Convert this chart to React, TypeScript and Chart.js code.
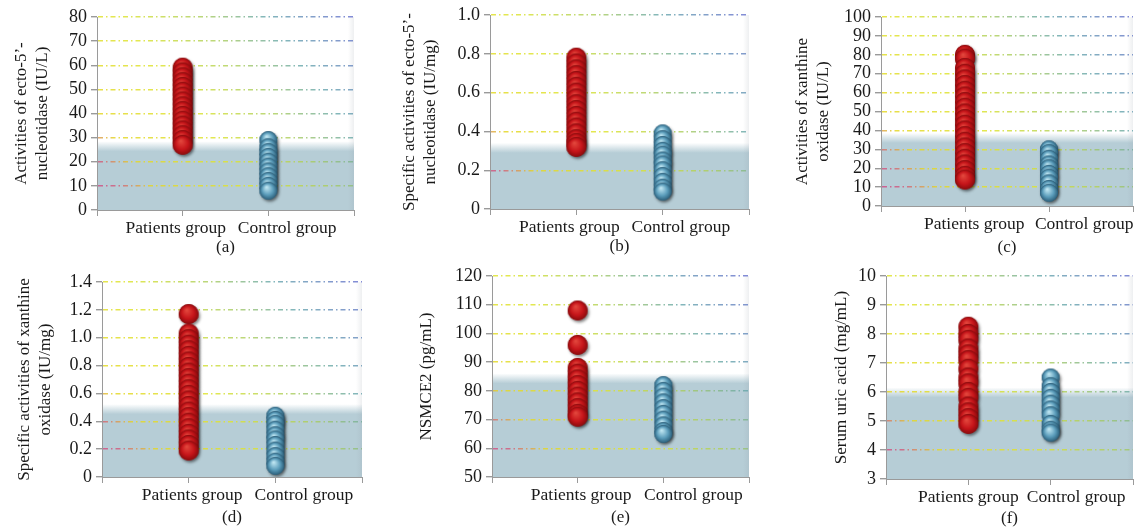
import React, { useEffect, useRef } from 'react';
import { Chart, registerables } from 'chart.js';

Chart.register(...registerables);

// ---------- data ----------
const groupLabels = ['Patients group', 'Control group'];

const aPatients = [59, 57, 55, 53, 51, 49, 47, 45, 43, 41, 39, 37, 35, 33, 31, 29, 27];
const aControl = [29, 26, 24, 22, 20, 18, 16, 14, 12, 10, 8];

const bPatients = [0.78, 0.75, 0.72, 0.69, 0.66, 0.63, 0.6, 0.57, 0.54, 0.51, 0.48, 0.45, 0.42, 0.39, 0.36, 0.34, 0.32];
const bControl = [0.39, 0.36, 0.33, 0.3, 0.28, 0.25, 0.23, 0.2, 0.17, 0.14, 0.11, 0.09];

const cPatients = [80, 78, 73, 70, 67, 64, 61, 58, 55, 52, 49, 46, 43, 40, 37, 34, 31, 28, 25, 22, 19, 16, 14];
const cControl = [30, 28, 25, 22, 20, 17, 15, 12, 9, 7];

const dPatients = [1.17, 1.03, 0.99, 0.95, 0.91, 0.87, 0.83, 0.79, 0.75, 0.71, 0.67, 0.63, 0.59, 0.55, 0.51, 0.47, 0.43, 0.39, 0.35, 0.31, 0.27, 0.23, 0.19];
const dControl = [0.44, 0.41, 0.38, 0.34, 0.3, 0.27, 0.23, 0.19, 0.15, 0.11, 0.08];

const ePatients = [108, 96, 88, 86, 84, 82, 80, 78, 76, 74, 72, 71];
const eControl = [82, 80, 78, 76, 74, 72, 70, 68, 66, 65];

const fPatients = [8.25, 8.0, 7.8, 7.5, 7.3, 7.1, 6.8, 6.5, 6.3, 6.0, 5.8, 5.5, 5.3, 5.1, 4.9];
const fControl = [6.5, 6.2, 6.0, 5.8, 5.6, 5.4, 5.2, 4.9, 4.7, 4.6];

// ---------- layout / style ----------
const SERIF = '"Liberation Serif", "Times New Roman", Times, serif';

type Panel = {
  id: string;
  caption: string;
  yTitle: string | string[];
  patients: number[];
  control: number[];
  yMin: number;
  yMax: number;
  yStep: number;
  decimals: number;
  level: number;
  box: { x: number; y: number; w: number; h: number };
  area: { l: number; t: number; r: number; b: number };
  titlePad: number;
  captionPad: number;
  labelAt: number[];
};

const panels: Panel[] = [
  {
    id: 'a', caption: '(a)', yTitle: ['Activities of ecto-5\u2019-', 'nucleotidase (IU/L)'],
    patients: aPatients, control: aControl, yMin: 0, yMax: 80, yStep: 10, decimals: 0, level: 26,
    box: { x: 0, y: 0, w: 380, h: 260 }, area: { l: 97, t: 17, r: 354, b: 210 },
    titlePad: 11, captionPad: 2, labelAt: [0.92, 2.22],
  },
  {
    id: 'b', caption: '(b)', yTitle: ['Specific activities of ecto-5\u2019-', 'nucleotidase (IU/mg)'],
    patients: bPatients, control: bControl, yMin: 0, yMax: 1.0, yStep: 0.2, decimals: 1, level: 0.31,
    box: { x: 380, y: 0, w: 380, h: 260 }, area: { l: 490, t: 15, r: 750, b: 209 },
    titlePad: 19, captionPad: 3, labelAt: [0.92, 2.21],
  },
  {
    id: 'c', caption: '(c)', yTitle: ['Activities of xanthine', 'oxidase (IU/L)'],
    patients: cPatients, control: cControl, yMin: 0, yMax: 100, yStep: 10, decimals: 0, level: 35.5,
    box: { x: 760, y: 0, w: 384, h: 260 }, area: { l: 881, t: 17, r: 1140, b: 206 },
    titlePad: 32, captionPad: 2, labelAt: [1.11, 2.42],
  },
  {
    id: 'd', caption: '(d)', yTitle: ['Specific activities of xanthine', 'oxidase (IU/mg)'],
    patients: dPatients, control: dControl, yMin: 0, yMax: 1.4, yStep: 0.2, decimals: 1, level: 0.48,
    box: { x: 0, y: 260, w: 380, h: 269 }, area: { l: 102, t: 282, r: 362, b: 477 },
    titlePad: 14, captionPad: 1, labelAt: [1.04, 2.33],
  },
  {
    id: 'e', caption: '(e)', yTitle: 'NSMCE2 (pg/mL)',
    patients: ePatients, control: eControl, yMin: 50, yMax: 120, yStep: 10, decimals: 0, level: 84,
    box: { x: 380, y: 260, w: 380, h: 269 }, area: { l: 492, t: 276, r: 752, b: 477 },
    titlePad: 36, captionPad: 1, labelAt: [1.04, 2.35],
  },
  {
    id: 'f', caption: '(f)', yTitle: 'Serum uric acid (mg/mL)',
    patients: fPatients, control: fControl, yMin: 3, yMax: 10, yStep: 1, decimals: 0, level: 5.95,
    box: { x: 760, y: 260, w: 384, h: 269 }, area: { l: 886, t: 276, r: 1143, b: 479 },
    titlePad: 71, captionPad: 0, labelAt: [1.0, 2.31],
  },
];

function makeBall(r: number, c0: string, c1: string, c2: string): HTMLCanvasElement {
  const pad = 5;
  const s = Math.ceil(2 * r + 2 * pad);
  const cv = document.createElement('canvas');
  cv.width = s;
  cv.height = s;
  const g = cv.getContext('2d')!;
  const cx = s / 2;
  const cy = s / 2;
  g.save();
  g.shadowColor = 'rgba(0,0,0,0.5)';
  g.shadowBlur = 3;
  g.shadowOffsetX = 1.5;
  g.shadowOffsetY = 2;
  g.beginPath();
  g.arc(cx, cy, r, 0, Math.PI * 2);
  g.fillStyle = c2;
  g.fill();
  g.restore();
  const grad = g.createRadialGradient(cx - r * 0.2, cy - r * 0.4, r * 0.05, cx, cy, r);
  grad.addColorStop(0, c0);
  grad.addColorStop(0.6, c1);
  grad.addColorStop(1, c2);
  g.beginPath();
  g.arc(cx, cy, r, 0, Math.PI * 2);
  g.fillStyle = grad;
  g.fill();
  return cv;
}

function gridColor(c: any) {
  if (c.index === 0) return 'rgba(0,0,0,0)';
  const chart = c.chart;
  const a = chart.chartArea;
  if (!a) return 'rgba(210,210,80,0.8)';
  const g = chart.ctx.createLinearGradient(a.left, a.bottom, a.right, a.top);
  g.addColorStop(0, 'rgba(205,60,140,0.8)');
  g.addColorStop(0.1, 'rgba(210,90,120,0.8)');
  g.addColorStop(0.18, 'rgba(228,215,40,0.85)');
  g.addColorStop(0.42, 'rgba(222,228,50,0.85)');
  g.addColorStop(0.62, 'rgba(170,205,90,0.8)');
  g.addColorStop(0.78, 'rgba(100,165,170,0.8)');
  g.addColorStop(1, 'rgba(100,110,205,0.8)');
  return g;
}

function PanelChart({ p }: { p: Panel }) {
  const ref = useRef<HTMLCanvasElement>(null);
  useEffect(() => {
    const canvas = ref.current!;
    const red = makeBall(10, '#e2463c', '#c6151a', '#8a0b0d');
    const blue = makeBall(9, '#bfe6f2', '#5b9dbb', '#2c5f7a');
    const bg = {
      id: 'bg_' + p.id,
      beforeDraw(chart: any) {
        const { ctx, chartArea: a, scales } = chart;
        const yL = scales.y.getPixelForValue(p.level);
        ctx.save();
        ctx.fillStyle = '#ffffff';
        ctx.fillRect(a.left, a.top, a.width, a.height);
        const g = ctx.createLinearGradient(0, yL - 6, 0, yL + 4);
        g.addColorStop(0, 'rgba(182,205,214,0)');
        g.addColorStop(1, 'rgb(182,205,214)');
        ctx.fillStyle = g;
        ctx.fillRect(a.left, yL - 6, a.width, a.bottom - (yL - 6));
        const g2 = ctx.createLinearGradient(a.right - 6, 0, a.right, 0);
        g2.addColorStop(0, 'rgba(140,150,160,0)');
        g2.addColorStop(1, 'rgba(140,150,160,0.15)');
        ctx.fillStyle = g2;
        ctx.fillRect(a.right - 6, a.top, 6, a.height);
        ctx.restore();
      },
    };
    const { box, area } = p;
    const chart = new Chart(canvas, {
      type: 'scatter',
      data: {
        datasets: [
          {
            label: groupLabels[0],
            data: p.patients.map((v) => ({ x: 1, y: v })),
            pointStyle: red as any,
            pointRadius: 10,
            xAxisID: 'x',
            yAxisID: 'y',
          },
          {
            label: groupLabels[1],
            data: p.control.map((v) => ({ x: 2, y: v })),
            pointStyle: blue as any,
            pointRadius: 9,
            xAxisID: 'x',
            yAxisID: 'y',
          },
        ],
      },
      options: {
        responsive: false,
        animation: false,
        events: [],
        layout: {
          padding: { top: area.t - box.y, right: box.x + box.w - area.r, bottom: 0, left: 0 },
        },
        plugins: { legend: { display: false }, tooltip: { enabled: false } },
        scales: {
          y: {
            type: 'linear',
            position: 'left',
            min: p.yMin,
            max: p.yMax,
            afterFit: (s: any) => { s.width = area.l - box.x; },
            ticks: {
              stepSize: p.yStep,
              autoSkip: false,
              padding: 4,
              color: '#1a1a1a',
              font: { family: SERIF, size: 18 },
              callback: (v: any) => (Number(v) === 0 ? '0' : Number(v).toFixed(p.decimals)),
            },
            grid: {
              color: gridColor as any,
              lineWidth: 1.4,
              tickColor: '#9a9a9a',
              tickLength: 6,
              drawTicks: true,
            },
            border: { display: true, color: '#9a9a9a', width: 1, dash: [5, 3, 1.5, 3] },
            title: {
              display: true,
              text: p.yTitle,
              color: '#1a1a1a',
              font: { family: SERIF, size: 17, lineHeight: 1.25 },
              padding: { top: p.titlePad, bottom: 0 },
            },
          },
          x: {
            type: 'linear',
            position: 'bottom',
            weight: 0,
            min: 0,
            max: 3,
            afterFit: (s: any) => { s.height = 6; },
            ticks: { display: false, stepSize: 1 },
            grid: { drawOnChartArea: false, drawTicks: true, tickLength: 6, tickColor: '#9a9a9a' },
            border: { display: true, color: '#9a9a9a', width: 1 },
          },
          xl: {
            type: 'linear',
            position: 'bottom',
            weight: 1,
            min: 0,
            max: 3,
            afterFit: (s: any) => { s.height = box.y + box.h - area.b - 6; },
            afterBuildTicks: (s: any) => { s.ticks = p.labelAt.map((v) => ({ value: v })); },
            ticks: {
              autoSkip: false,
              maxRotation: 0,
              minRotation: 0,
              padding: 2,
              color: '#1a1a1a',
              font: { family: SERIF, size: 17.5 },
              callback: (_v: any, i: number) => groupLabels[i],
            },
            grid: { display: false, drawTicks: false },
            border: { display: false },
            title: {
              display: true,
              text: p.caption,
              color: '#1a1a1a',
              font: { family: SERIF, size: 17, lineHeight: 1.25 },
              padding: { top: 0, bottom: p.captionPad },
            },
          },
        },
      } as any,
      plugins: [bg],
    });
    return () => chart.destroy();
  }, []);
  return (
    <canvas
      ref={ref}
      width={p.box.w}
      height={p.box.h}
      style={{ position: 'absolute', left: p.box.x, top: p.box.y, width: p.box.w, height: p.box.h }}
    />
  );
}

export default function App() {
  return (
    <div style={{ position: 'absolute', left: 0, top: 0, width: 1144, height: 529, background: '#ffffff', overflow: 'hidden' }}>
      {panels.map((p) => (
        <PanelChart key={p.id} p={p} />
      ))}
    </div>
  );
}
